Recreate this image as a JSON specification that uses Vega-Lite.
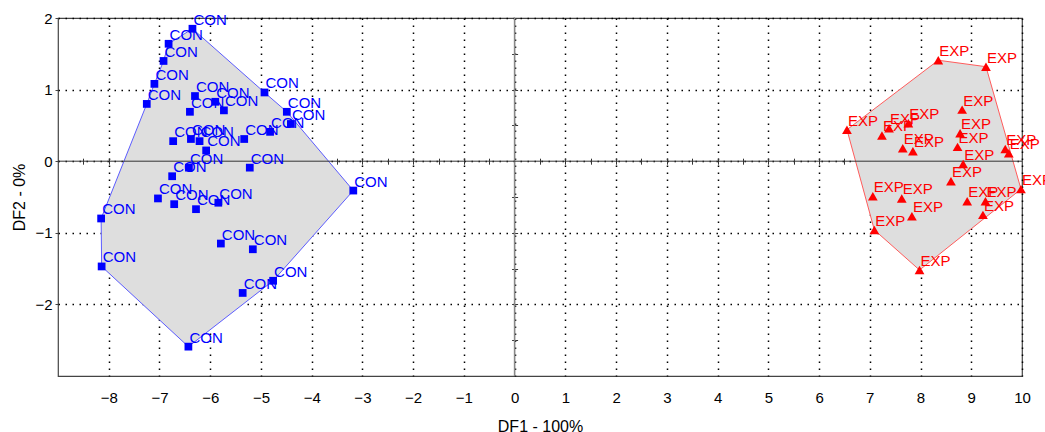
{
  "$schema": "https://vega.github.io/schema/vega-lite/v6.json",
  "autosize": "none",
  "width": 964,
  "height": 358,
  "padding": {"left": 58, "top": 18, "right": 23, "bottom": 56},
  "background": "white",
  "config": {
    "view": {"stroke": "#444444", "strokeWidth": 1.2},
    "font": "Liberation Sans",
    "axis": {"labelFont": "Liberation Sans", "titleFont": "Liberation Sans", "labelColor": "#000", "titleColor": "#000", "titleFontWeight": "normal"}
  },
  "datasets": {
    "pts": [
      {"grp": "CON", "df1": -6.35, "df2": 1.85},
      {"grp": "CON", "df1": -6.82, "df2": 1.64},
      {"grp": "CON", "df1": -6.92, "df2": 1.40},
      {"grp": "CON", "df1": -7.10, "df2": 1.08},
      {"grp": "CON", "df1": -7.25, "df2": 0.80},
      {"grp": "CON", "df1": -6.30, "df2": 0.91},
      {"grp": "CON", "df1": -5.90, "df2": 0.83},
      {"grp": "CON", "df1": -6.40, "df2": 0.69},
      {"grp": "CON", "df1": -5.73, "df2": 0.71},
      {"grp": "CON", "df1": -4.93, "df2": 0.96},
      {"grp": "CON", "df1": -4.49, "df2": 0.69},
      {"grp": "CON", "df1": -4.41, "df2": 0.52},
      {"grp": "CON", "df1": -4.82, "df2": 0.41},
      {"grp": "CON", "df1": -5.33, "df2": 0.31},
      {"grp": "CON", "df1": -6.73, "df2": 0.28},
      {"grp": "CON", "df1": -6.38, "df2": 0.31},
      {"grp": "CON", "df1": -6.21, "df2": 0.28},
      {"grp": "CON", "df1": -6.08, "df2": 0.15},
      {"grp": "CON", "df1": -6.42, "df2": -0.09},
      {"grp": "CON", "df1": -5.22, "df2": -0.09},
      {"grp": "CON", "df1": -6.75, "df2": -0.21},
      {"grp": "CON", "df1": -7.03, "df2": -0.52},
      {"grp": "CON", "df1": -6.71, "df2": -0.60},
      {"grp": "CON", "df1": -6.28, "df2": -0.67},
      {"grp": "CON", "df1": -5.84, "df2": -0.58},
      {"grp": "CON", "df1": -3.18, "df2": -0.41},
      {"grp": "CON", "df1": -8.15, "df2": -0.80},
      {"grp": "CON", "df1": -8.14, "df2": -1.47},
      {"grp": "CON", "df1": -5.79, "df2": -1.15},
      {"grp": "CON", "df1": -5.16, "df2": -1.23},
      {"grp": "CON", "df1": -4.76, "df2": -1.67},
      {"grp": "CON", "df1": -5.36, "df2": -1.84},
      {"grp": "CON", "df1": -6.43, "df2": -2.59},
      {"grp": "EXP", "df1": 8.35, "df2": 1.41},
      {"grp": "EXP", "df1": 9.29, "df2": 1.32},
      {"grp": "EXP", "df1": 6.55, "df2": 0.44},
      {"grp": "EXP", "df1": 7.24, "df2": 0.36},
      {"grp": "EXP", "df1": 7.38, "df2": 0.46},
      {"grp": "EXP", "df1": 7.76, "df2": 0.53},
      {"grp": "EXP", "df1": 7.65, "df2": 0.18},
      {"grp": "EXP", "df1": 7.85, "df2": 0.14},
      {"grp": "EXP", "df1": 8.82, "df2": 0.72},
      {"grp": "EXP", "df1": 8.78, "df2": 0.39},
      {"grp": "EXP", "df1": 8.73, "df2": 0.20},
      {"grp": "EXP", "df1": 9.67, "df2": 0.17},
      {"grp": "EXP", "df1": 9.74, "df2": 0.11},
      {"grp": "EXP", "df1": 8.84, "df2": -0.04},
      {"grp": "EXP", "df1": 8.60, "df2": -0.28},
      {"grp": "EXP", "df1": 9.98, "df2": -0.39},
      {"grp": "EXP", "df1": 7.06, "df2": -0.49},
      {"grp": "EXP", "df1": 7.63, "df2": -0.52},
      {"grp": "EXP", "df1": 8.92, "df2": -0.56},
      {"grp": "EXP", "df1": 9.28, "df2": -0.56},
      {"grp": "EXP", "df1": 9.23, "df2": -0.75},
      {"grp": "EXP", "df1": 7.83, "df2": -0.77},
      {"grp": "EXP", "df1": 7.09, "df2": -0.96},
      {"grp": "EXP", "df1": 7.98, "df2": -1.52}
    ],
    "hull": [
      {"grp": "CON", "ord": 1, "df1": -6.35, "df2": 1.85},
      {"grp": "CON", "ord": 2, "df1": -4.93, "df2": 0.96},
      {"grp": "CON", "ord": 3, "df1": -4.49, "df2": 0.69},
      {"grp": "CON", "ord": 4, "df1": -3.18, "df2": -0.41},
      {"grp": "CON", "ord": 5, "df1": -4.76, "df2": -1.67},
      {"grp": "CON", "ord": 6, "df1": -6.43, "df2": -2.59},
      {"grp": "CON", "ord": 7, "df1": -8.14, "df2": -1.47},
      {"grp": "CON", "ord": 8, "df1": -8.15, "df2": -0.80},
      {"grp": "CON", "ord": 9, "df1": -7.25, "df2": 0.80},
      {"grp": "CON", "ord": 10, "df1": -7.10, "df2": 1.08},
      {"grp": "CON", "ord": 11, "df1": -6.92, "df2": 1.40},
      {"grp": "CON", "ord": 12, "df1": -6.82, "df2": 1.64},
      {"grp": "EXP", "ord": 1, "df1": 8.35, "df2": 1.41},
      {"grp": "EXP", "ord": 2, "df1": 9.29, "df2": 1.32},
      {"grp": "EXP", "ord": 3, "df1": 9.98, "df2": -0.39},
      {"grp": "EXP", "ord": 4, "df1": 7.98, "df2": -1.52},
      {"grp": "EXP", "ord": 5, "df1": 7.09, "df2": -0.96},
      {"grp": "EXP", "ord": 6, "df1": 6.55, "df2": 0.44}
    ]
  },
  "resolve": {"axis": {"x": "independent", "y": "independent"}},
  "layer": [
    {
      "data": {"name": "hull"},
      "mark": {"type": "line", "interpolate": "linear-closed", "fill": "#dedede", "strokeWidth": 1},
      "encoding": {
        "x": {"field": "df1", "type": "quantitative", "scale": {"domain": [-9, 10], "nice": false, "zero": false}, "axis": null},
        "y": {"field": "df2", "type": "quantitative", "scale": {"domain": [-3, 2], "nice": false, "zero": false}, "axis": null},
        "order": {"field": "ord"},
        "detail": {"field": "grp"},
        "stroke": {"field": "grp", "type": "nominal", "scale": {"domain": ["CON", "EXP"], "range": ["#5c5cff", "#ff5c5c"]}, "legend": null}
      }
    },
    {
      "data": {"values": [{}]},
      "mark": {"type": "rule", "color": "#888888", "strokeWidth": 1.6},
      "encoding": {
        "x": {"datum": 0, "type": "quantitative", "axis": {"orient": "bottom", "offset": -217.8, "values": [-8.5,-8,-7.5,-7,-6.5,-6,-5.5,-5,-4.5,-4,-3.5,-3,-2.5,-2,-1.5,-1,-0.5,0.5,1,1.5,2,2.5,3,3.5,4,4.5,5,5.5,6,6.5,7,7.5,8,8.5,9,9.5], "labels": false, "domain": false, "grid": false, "ticks": true, "tickSize": 6, "tickColor": "#333333", "tickWidth": 1, "title": null}}
      }
    },
    {
      "data": {"values": [{}]},
      "mark": {"type": "rule", "color": "#333333", "strokeWidth": 1},
      "encoding": {
        "y": {"datum": 0, "type": "quantitative", "axis": {"orient": "right", "offset": -510.4, "values": [-2.5,-2,-1.5,-1,-0.5,0.5,1,1.5], "labels": false, "domain": false, "grid": false, "ticks": true, "tickSize": 6, "tickColor": "#333333", "tickWidth": 1, "title": null}}
      }
    },
    {
      "data": {"name": "pts"},
      "mark": {"type": "text", "align": "left", "baseline": "alphabetic", "dx": 1, "dy": -4, "fontSize": 15, "font": "Liberation Sans"},
      "encoding": {
        "x": {"field": "df1", "type": "quantitative", "axis": null},
        "y": {"field": "df2", "type": "quantitative", "axis": null},
        "text": {"field": "grp"},
        "color": {"field": "grp", "type": "nominal", "scale": {"domain": ["CON", "EXP"], "range": ["#0000ff", "#ff0000"]}, "legend": null}
      }
    },
    {
      "data": {"name": "pts"},
      "mark": {"type": "point", "filled": true, "opacity": 1, "strokeWidth": 0},
      "encoding": {
        "x": {"field": "df1", "type": "quantitative", "axis": {"orient": "bottom", "values": [-8,-7,-6,-5,-4,-3,-2,-1,0,1,2,3,4,5,6,7,8,9,10], "labelFlush": false, "labelFontSize": 15, "labelPadding": 14, "ticks": false, "domain": false, "grid": true, "gridColor": "#000000", "gridDash": [1.5, 5.5], "gridWidth": 1.5, "title": "DF1 - 100%", "titleFontSize": 16, "titlePadding": 13}},
        "y": {"field": "df2", "type": "quantitative", "axis": {"orient": "left", "values": [-2,-1,0,1,2], "labelFlush": false, "labelFontSize": 15, "labelPadding": 3, "ticks": true, "tickSize": 3, "tickColor": "#444444", "domain": false, "grid": true, "gridColor": "#000000", "gridDash": [1.5, 5.5], "gridWidth": 1.5, "title": "DF2 - 0%", "titleFontSize": 16, "titlePadding": 7}},
        "color": {"field": "grp", "type": "nominal", "scale": {"domain": ["CON", "EXP"], "range": ["#0000ff", "#ff0000"]}, "legend": null},
        "shape": {"field": "grp", "type": "nominal", "scale": {"domain": ["CON", "EXP"], "range": ["square", "triangle-up"]}, "legend": null},
        "size": {"field": "grp", "type": "ordinal", "scale": {"domain": ["CON", "EXP"], "range": [60, 95]}, "legend": null}
      }
    }
  ]
}
